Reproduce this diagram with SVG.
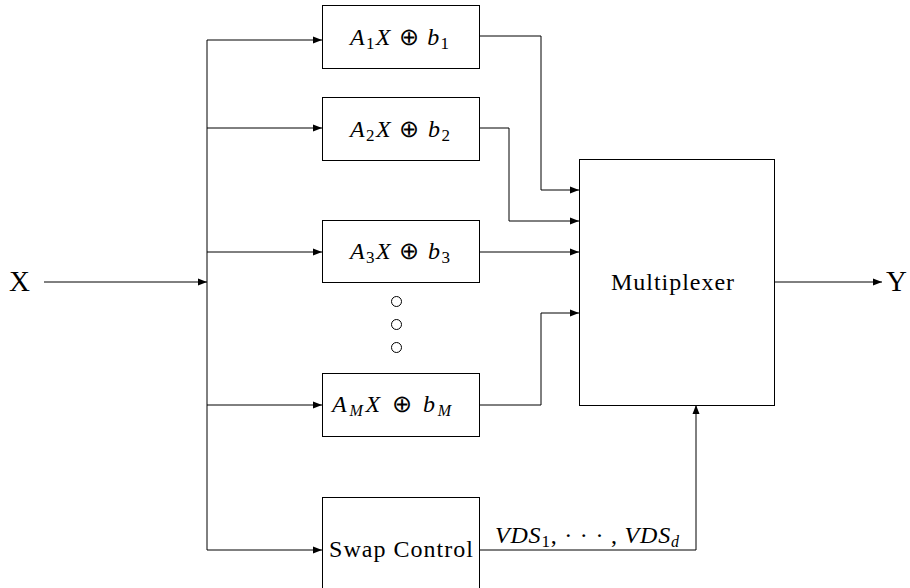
<svg xmlns="http://www.w3.org/2000/svg" width="910" height="588" viewBox="0 0 910 588">
<style>
.box{fill:#fff;stroke:#000;stroke-width:1}
.ln{fill:none;stroke:#000;stroke-width:1}
</style>
<defs>
<marker id="ah" markerWidth="10" markerHeight="8" refX="9" refY="4" orient="auto" markerUnits="userSpaceOnUse">
<path d="M0,0.5 L9,4 L0,7.5 Z" fill="#000"/>
</marker>
</defs>
<g id="connectors">
<path class="ln" d="M44,282 H207" marker-end="url(#ah)"/>
<path class="ln" d="M207,40 V550"/>
<path class="ln" d="M207,40 H322" marker-end="url(#ah)"/>
<path class="ln" d="M207,128 H322" marker-end="url(#ah)"/>
<path class="ln" d="M207,252 H322" marker-end="url(#ah)"/>
<path class="ln" d="M207,405 H322" marker-end="url(#ah)"/>
<path class="ln" d="M207,550 H322" marker-end="url(#ah)"/>
<path class="ln" d="M479,36 H541 V190 H579" marker-end="url(#ah)"/>
<path class="ln" d="M479,128 H509 V221 H579" marker-end="url(#ah)"/>
<path class="ln" d="M479,252 H579" marker-end="url(#ah)"/>
<path class="ln" d="M479,405 H541 V313 H579" marker-end="url(#ah)"/>
<path class="ln" d="M479,550 H696 V405" marker-end="url(#ah)"/>
<path class="ln" d="M774,282 H882" marker-end="url(#ah)"/>
</g>
<g font-family="Liberation Serif, serif">
<g id="X"><text x="9" y="291" font-size="29">X</text></g>
<g id="Y"><text x="886" y="291" font-size="29">Y</text></g>
<g id="box1"><rect class="box" x="322.5" y="5.5" width="157" height="63"/>
<text x="350" y="45" font-size="24" font-style="italic" textLength="99">A<tspan font-size="17" font-style="normal" dy="4">1</tspan><tspan dy="-4">X </tspan><tspan font-style="normal">⊕</tspan> b<tspan font-size="17" font-style="normal" dy="4">1</tspan></text></g>
<g id="box2"><rect class="box" x="322.5" y="97.5" width="157" height="63"/>
<text x="350" y="137" font-size="24" font-style="italic" textLength="100">A<tspan font-size="17" font-style="normal" dy="4">2</tspan><tspan dy="-4">X </tspan><tspan font-style="normal">⊕</tspan> b<tspan font-size="17" font-style="normal" dy="4">2</tspan></text></g>
<g id="box3"><rect class="box" x="322.5" y="220.5" width="157" height="62"/>
<text x="350" y="259" font-size="24" font-style="italic" textLength="100">A<tspan font-size="17" font-style="normal" dy="4">3</tspan><tspan dy="-4">X </tspan><tspan font-style="normal">⊕</tspan> b<tspan font-size="17" font-style="normal" dy="4">3</tspan></text></g>
<g id="dots">
<circle class="ln" cx="396.5" cy="301.5" r="5"/>
<circle class="ln" cx="396.5" cy="324.5" r="5"/>
<circle class="ln" cx="396.5" cy="347.5" r="5"/>
</g>
<g id="boxM"><rect class="box" x="322.5" y="373.5" width="157" height="63"/>
<text x="332" y="412" font-size="24" font-style="italic" textLength="119">A<tspan font-size="16" dy="4">M</tspan><tspan dy="-4">X </tspan><tspan font-style="normal">⊕</tspan> b<tspan font-size="16" dy="4">M</tspan></text></g>
<g id="swap"><rect class="box" x="322.5" y="497.5" width="157" height="95"/>
<text x="329" y="557" font-size="24" textLength="144">Swap Control</text></g>
<g id="mux"><rect class="box" x="579.5" y="159.5" width="195" height="246"/>
<text x="611" y="290" font-size="24" textLength="123">Multiplexer</text></g>
<g id="vds"><text x="495" y="543" font-size="24" font-style="italic" textLength="184">VDS<tspan font-size="17" font-style="normal" dy="4">1</tspan><tspan dy="-4" font-style="normal">, · · · ,</tspan> VDS<tspan font-size="16" dy="4">d</tspan></text></g>
</g>
</svg>
